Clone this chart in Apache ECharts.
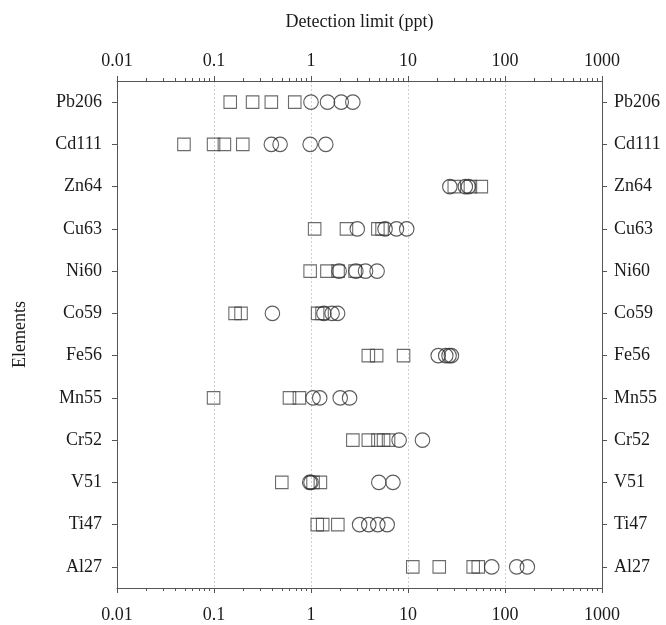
<!DOCTYPE html>
<html>
<head>
<meta charset="utf-8">
<script src="https://cdn.jsdelivr.net/npm/echarts@6/dist/echarts.min.js"></script>
<style>
html,body{margin:0;padding:0;background:#fff;}
#chart{width:666px;height:625px;}
</style>
</head>
<body>
<div id="chart"></div>
<script>
// Elements, top to bottom
const elements = ['Pb206','Cd111','Zn64','Cu63','Ni60','Co59','Fe56','Mn55','Cr52','V51','Ti47','Al27'];

// Detection limits (ppt) drawn as squares
const Pb206_squares = [0.147, 0.25, 0.39, 0.68];
const Cd111_squares = [0.049, 0.099, 0.128, 0.198];
const Zn64_squares  = [30, 44, 57];
const Cu63_squares  = [1.09, 2.32, 4.89, 5.4];
const Ni60_squares  = [0.98, 1.46, 1.9, 2.85];
const Co59_squares  = [0.165, 0.19, 1.17, 1.3];
const Fe56_squares  = [3.9, 4.75, 9.0];
const Mn55_squares  = [0.099, 0.6, 0.76];
const Cr52_squares  = [2.7, 3.9, 4.9, 5.6, 6.3];
const V51_squares   = [0.5, 1.05, 1.25];
const Ti47_squares  = [1.16, 1.32, 1.89];
const Al27_squares  = [11.2, 21, 47, 53];

// Detection limits (ppt) drawn as circles
const Pb206_circles = [1.0, 1.48, 2.05, 2.7];
const Cd111_circles = [0.39, 0.48, 0.98, 1.42];
const Zn64_circles  = [27, 39, 42];
const Cu63_circles  = [3.0, 5.8, 7.6, 9.7];
const Ni60_circles  = [1.95, 2.9, 3.65, 4.8];
const Co59_circles  = [0.4, 1.36, 1.65, 1.88];
const Fe56_circles  = [20.5, 24.5, 26.5, 28];
const Mn55_circles  = [1.05, 1.23, 2.0, 2.5];
const Cr52_circles  = [8.1, 14.1];
const V51_circles   = [0.97, 1.0, 5.0, 7.0];
const Ti47_circles  = [3.17, 3.94, 4.88, 6.1];
const Al27_circles  = [73, 132, 170];

// Axis tick labels
const tickLabels = [0.01, 0.1, 1, 10, 100, 1000];

const squaresByElement = [Pb206_squares, Cd111_squares, Zn64_squares, Cu63_squares, Ni60_squares, Co59_squares,
  Fe56_squares, Mn55_squares, Cr52_squares, V51_squares, Ti47_squares, Al27_squares];
const circlesByElement = [Pb206_circles, Cd111_circles, Zn64_circles, Cu63_circles, Ni60_circles, Co59_circles,
  Fe56_circles, Mn55_circles, Cr52_circles, V51_circles, Ti47_circles, Al27_circles];

function toPoints(groups) {
  const pts = [];
  groups.forEach((vals, i) => vals.forEach(v => pts.push([v, elements[i]])));
  return pts;
}

const minorTicks = [];
for (let d = 0; d < tickLabels.length - 1; d++) {
  for (let k = 2; k <= 9; k++) minorTicks.push(+(tickLabels[d] * k).toPrecision(3));
}

const FONT = '"Liberation Serif", "Times New Roman", serif';
const AX = '#555';
const TXT = '#1a1a1a';

function majorX(pos, show, extra) {
  return Object.assign({
    type: 'log', logBase: 10, min: 0.01, max: 1000, position: pos, gridIndex: 0,
    axisLine: { show: true, onZero: false, lineStyle: { color: AX, width: 1 } },
    axisTick: { show: true, inside: false, length: 5, lineStyle: { color: AX }, customValues: tickLabels },
    axisLabel: { show: show, customValues: tickLabels, fontFamily: FONT, fontSize: 18, color: TXT,
      formatter: v => String(+(+v).toPrecision(3)) },
    splitLine: { show: false },
    minorTick: { show: false }, minorSplitLine: { show: false }
  }, extra || {});
}
function minorX(pos) {
  return {
    type: 'log', logBase: 10, min: 0.01, max: 1000, position: pos, gridIndex: 0,
    axisLine: { show: false },
    axisTick: { show: true, inside: false, length: 3, lineStyle: { color: AX }, customValues: minorTicks },
    axisLabel: { show: false },
    splitLine: { show: false }
  };
}

const option = {
  backgroundColor: '#fff',
  animation: false,
  grid: { left: 117, right: 64, top: 81, bottom: 37 },
  xAxis: [
    majorX('bottom', true, {
      axisLabel: { show: true, customValues: tickLabels, fontFamily: FONT, fontSize: 18, color: TXT, margin: 18,
        formatter: v => String(+(+v).toPrecision(3)) },
      splitLine: { show: true, lineStyle: { color: '#cfcfcf', type: [2, 2], width: 1 } }
    }),
    minorX('bottom'),
    majorX('top', true, {
      axisLabel: { show: true, customValues: tickLabels, fontFamily: FONT, fontSize: 18, color: TXT, margin: 11,
        formatter: v => String(+(+v).toPrecision(3)) },
      name: 'Detection limit (ppt)', nameLocation: 'middle', nameGap: 50,
      nameTextStyle: { fontFamily: FONT, fontSize: 18, color: TXT }
    }),
    minorX('top')
  ],
  yAxis: [
    {
      type: 'category', data: elements, inverse: true, position: 'left', gridIndex: 0,
      boundaryGap: true,
      axisLine: { show: true, lineStyle: { color: AX } },
      axisTick: { show: true, alignWithLabel: true, inside: false, length: 5, lineStyle: { color: AX } },
      axisLabel: { fontFamily: FONT, fontSize: 18, color: TXT, margin: 15 },
      splitLine: { show: false },
      name: 'Elements', nameLocation: 'middle', nameRotate: 90, nameGap: 88,
      nameTextStyle: { fontFamily: FONT, fontSize: 18, color: TXT }
    },
    {
      type: 'category', data: elements, inverse: true, position: 'right', gridIndex: 0,
      boundaryGap: true,
      axisLine: { show: true, lineStyle: { color: AX } },
      axisTick: { show: true, alignWithLabel: true, inside: false, length: 5, lineStyle: { color: AX } },
      axisLabel: { fontFamily: FONT, fontSize: 18, color: TXT, margin: 12 },
      splitLine: { show: false }
    }
  ],
  series: [
    {
      type: 'scatter', name: 'squares', xAxisIndex: 0, yAxisIndex: 0,
      symbol: 'rect', symbolSize: 12.5,
      itemStyle: { color: 'rgba(0,0,0,0)', borderColor: '#474747', borderWidth: 1.1 },
      data: toPoints(squaresByElement)
    },
    {
      type: 'scatter', name: 'circles', xAxisIndex: 0, yAxisIndex: 0,
      symbol: 'circle', symbolSize: 14.5,
      itemStyle: { color: 'rgba(0,0,0,0)', borderColor: '#333', borderWidth: 1.1 },
      data: toPoints(circlesByElement)
    }
  ]
};

const chart = echarts.init(document.getElementById('chart'), null, { renderer: 'canvas' });
chart.setOption(option);
</script>
</body>
</html>
